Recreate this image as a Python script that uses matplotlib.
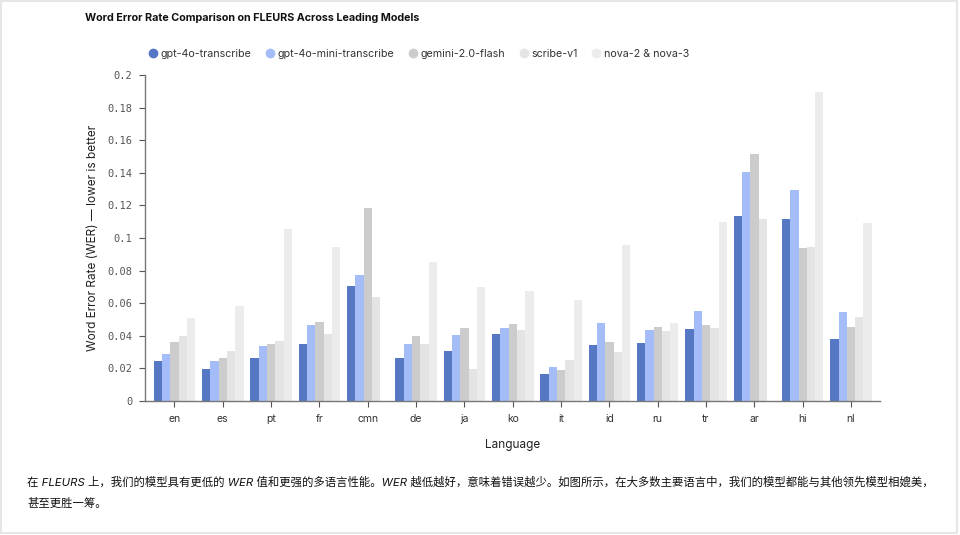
import numpy as np
import matplotlib
matplotlib.use("Agg")
import matplotlib.pyplot as plt
from matplotlib.lines import Line2D
from matplotlib.patches import Rectangle

plt.rcParams['font.family'] = ['Inter', 'Noto Sans CJK SC', 'DejaVu Sans']

languages = ["en", "es", "pt", "fr", "cmn", "de", "ja", "ko", "it", "id", "ru", "tr", "ar", "hi", "nl"]
models = ["gpt-4o-transcribe", "gpt-4o-mini-transcribe", "gemini-2.0-flash", "scribe-v1", "nova-2 & nova-3"]

gpt4o = [0.0245, 0.0196, 0.0264, 0.0348, 0.0706, 0.0262, 0.0307, 0.0409, 0.0164, 0.0346, 0.0354, 0.0444, 0.1133, 0.1115, 0.0378]
gpt4o_mini = [0.0286, 0.0243, 0.0337, 0.0466, 0.0771, 0.0348, 0.0405, 0.0450, 0.0209, 0.0479, 0.0436, 0.0554, 0.1407, 0.1292, 0.0546]
gemini = [0.0364, 0.0266, 0.0350, 0.0485, 0.1182, 0.0399, 0.0446, 0.0470, 0.0192, 0.0362, 0.0456, 0.0466, 0.1515, 0.0937, 0.0456]
scribe = [0.0397, 0.0307, 0.0366, 0.0409, 0.0636, 0.0348, 0.0196, 0.0436, 0.0254, 0.0301, 0.0429, 0.0450, 0.1117, 0.0943, 0.0517]
nova = [0.0511, 0.0583, 0.1057, 0.0943, np.nan, 0.0853, 0.0701, 0.0675, 0.0620, 0.0957, 0.0476, 0.1096, np.nan, 0.1894, 0.1090]

series = [gpt4o, gpt4o_mini, gemini, scribe, nova]
colors = ["#5577c4", "#a4bdf8", "#cccccc", "#e4e4e4", "#ececec"]

yticks = [0, 0.02, 0.04, 0.06, 0.08, 0.1, 0.12, 0.14, 0.16, 0.18, 0.2]
ytick_labels = ["0", "0.02", "0.04", "0.06", "0.08", "0.1", "0.12", "0.14", "0.16", "0.18", "0.2"]

title = "Word Error Rate Comparison on FLEURS Across Leading Models"
caption1 = "在 FLEURS 上，我们的模型具有更低的 WER 值和更强的多语言性能。WER 越低越好，意味着错误越少。如图所示，在大多数主要语言中，我们的模型都能与其他领先模型相媲美，"
caption2 = "甚至更胜一筹。"

fig = plt.figure(figsize=(9.6, 5.35), dpi=100)
ax = fig.add_axes([145 / 960, 1 - 401 / 535, 735 / 960, 326 / 535])

x = np.arange(len(languages))
bw = 0.172
for i, (vals, col) in enumerate(zip(series, colors)):
    v = np.array(vals, dtype=float)
    m = np.isfinite(v)
    ax.bar(x[m] + (i - 2) * bw, v[m], width=bw, color=col, linewidth=0, label=models[i])

ax.set_xlim(-0.61, len(languages) - 1 + 0.6)
ax.set_ylim(0, 0.2)
ax.set_xticks(x)
ax.set_xticklabels(languages, fontsize=7.5, color="#333333")
ax.set_yticks(yticks)
ax.set_yticklabels(ytick_labels, family="DejaVu Sans Mono", fontsize=7.5, color="#555555")
for s in ["top", "right"]:
    ax.spines[s].set_visible(False)
for s in ["left", "bottom"]:
    ax.spines[s].set_color("#777777")
    ax.spines[s].set_linewidth(1.0)
ax.tick_params(axis="both", length=4, width=0.8, color="#555555")
ax.tick_params(axis="x", pad=5)
ax.tick_params(axis="y", pad=5)

ax.set_xlabel("Language", fontsize=8.5, color="#222222", labelpad=11)
ax.set_ylabel("Word Error Rate (WER) — lower is better", fontsize=8.5, color="#222222", labelpad=6)

fig.text(85 / 960, 1 - 18 / 535, title, fontsize=7.75, fontweight="bold", va="center", ha="left", color="#111111")

handles = [Line2D([], [], marker="o", linestyle="", markersize=6, markerfacecolor=c, markeredgecolor=c) for c in colors]
fig.legend(handles, models, loc="center left", bbox_to_anchor=(137 / 960, 1 - 54 / 535), ncol=5,
           frameon=False, fontsize=7.7, handletextpad=0.1, columnspacing=1.15, handlelength=1.2,
           labelcolor="#333333")

fig.text(27 / 960, 1 - 482 / 535, caption1, fontsize=8.2, style="italic", va="center", ha="left", color="#111111")
fig.text(27 / 960, 1 - 503 / 535, caption2, fontsize=8.2, style="italic", va="center", ha="left", color="#111111")

fig.patches.append(Rectangle((0.001, 0.003), 0.996, 0.995, transform=fig.transFigure, fill=False,
                             edgecolor="#e6e6e6", linewidth=1.5))

fig.savefig("out.png", dpi=100)
plt.close(fig)
